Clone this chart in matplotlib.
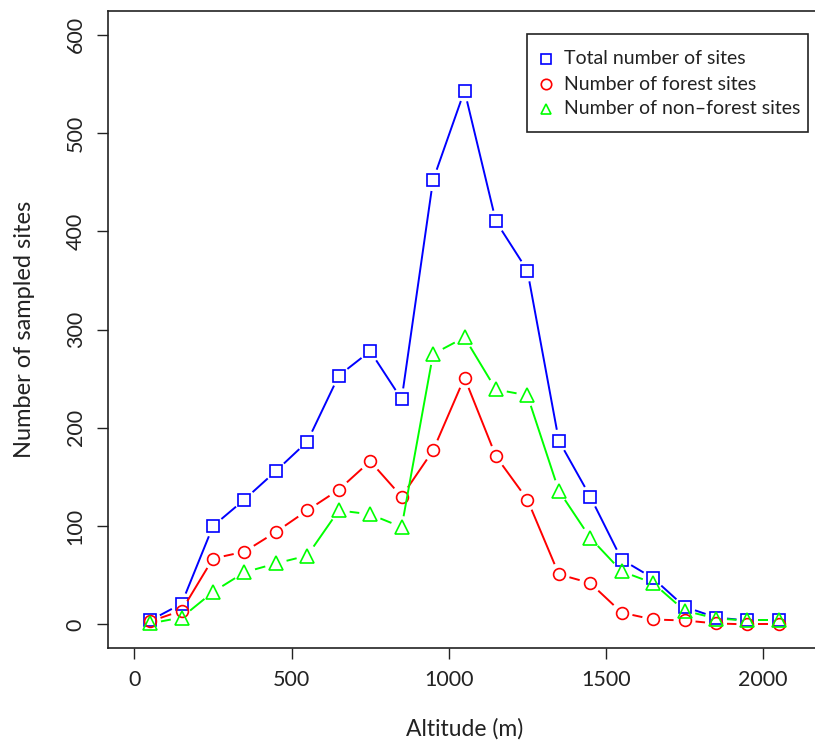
import numpy as np
import matplotlib
matplotlib.use('Agg')
import matplotlib.pyplot as plt
from matplotlib.patches import Rectangle
from matplotlib.lines import Line2D

plt.rcParams['font.family'] = ['Lato', 'DejaVu Sans']

# altitude classes (m) and counts
altitude = [50, 150, 250, 350, 450, 550, 650, 750, 850, 950, 1050,
            1150, 1250, 1350, 1450, 1550, 1650, 1750, 1850, 1950, 2050]
total_sites = [4, 21, 100, 127, 156, 186, 253, 278, 229, 452, 543,
               410, 360, 187, 130, 66, 47, 18, 7, 4, 4]
forest_sites = [3, 14, 67, 74, 94, 116, 137, 166, 130, 177, 251,
                171, 127, 51, 42, 12, 5, 4, 1, 0, 0]
nonforest_sites = [1, 7, 33, 53, 62, 70, 116, 112, 99, 275, 292,
                   239, 233, 136, 88, 54, 42, 14, 6, 4, 4]

labels = ['Total number of sites', 'Number of forest sites',
          'Number of non\u2013forest sites']
colors = ['#0000FF', '#FF0000', '#00FF00']
markers = ['s', 'o', '^']
msizes = [8, 8.5, 10]

W, H = 815, 745
fig = plt.figure(figsize=(W / 100, H / 100), dpi=100)
ax = fig.add_axes([108 / W, 1 - 648 / H, (821 - 108) / W, (648 - 11) / H])
ax.set_xlim(-84, 2184)
ax.set_ylim(-24, 624)

fig.canvas.draw()
trans = ax.transData
gap = 11  # px, R type="b" gaps

for ys, c, m, ms in zip([total_sites, forest_sites, nonforest_sites], colors, markers, msizes):
    pts = trans.transform(np.column_stack([altitude, ys]))
    for p0, p1 in zip(pts[:-1], pts[1:]):
        d = p1 - p0
        L = np.hypot(*d)
        if L <= 2 * gap:
            continue
        u = d / L
        seg = trans.inverted().transform(np.array([p0 + u * gap, p1 - u * gap]))
        ax.plot(seg[:, 0], seg[:, 1], color=c, lw=1.4, solid_capstyle='butt')
    ax.plot(altitude, ys, linestyle='none', marker=m, ms=ms, mfc='none',
            mec=c, mew=1.2)

ax.set_xticks([0, 500, 1000, 1500, 2000])
ax.set_yticks([0, 100, 200, 300, 400, 500, 600])
ax.tick_params(direction='out', length=8, width=1, labelsize=15.5, pad=8,
               color='#222222', labelcolor='#222222')
for lab in ax.get_yticklabels():
    lab.set_rotation(90)
    lab.set_va('center')
for s in ax.spines.values():
    s.set_linewidth(1.2)
    s.set_color('#222222')

ax.set_xlabel('Altitude (m)', fontsize=16.5, color='#222222', labelpad=20)
ax.set_ylabel('Number of sampled sites', fontsize=17, color='#222222', labelpad=22)

# legend box drawn by hand, R style (pixel positions)
def fx(px):
    return px / W

def fy(py):
    return 1 - py / H

fig.add_artist(Rectangle((fx(527), fy(132)), fx(808) - fx(527), fy(34) - fy(132),
                         transform=fig.transFigure, fill=False,
                         edgecolor='#222222', lw=1.2))
for i, (lab, c, m) in enumerate(zip(labels, colors, markers)):
    yy = 59 + 25 * i
    fig.add_artist(Line2D([fx(546)], [fy(yy)], transform=fig.transFigure,
                          linestyle='none', marker=m, ms=7.5, mfc='none', mec=c, mew=1.2))
    fig.text(fx(564), fy(yy), lab, fontsize=14, color='#222222', va='center', ha='left')

fig.savefig('out.png', dpi=100)
